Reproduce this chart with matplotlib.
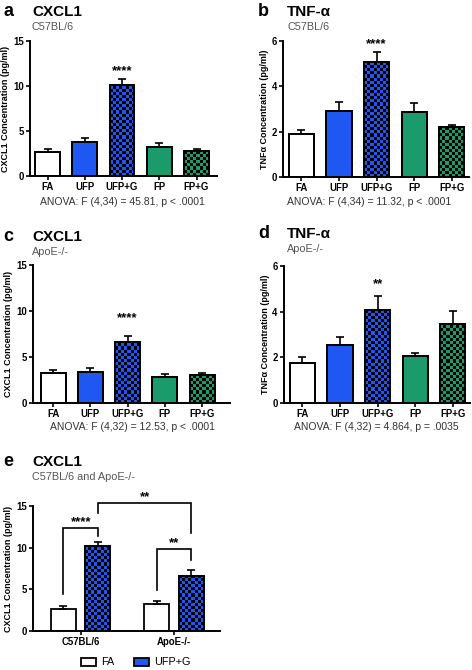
import numpy as np
import matplotlib
matplotlib.use("Agg")
import matplotlib.pyplot as plt
from matplotlib.colors import ListedColormap
from matplotlib.patches import Rectangle

plt.rcParams['font.family'] = ['Liberation Sans', 'DejaVu Sans']

groups = ['FA', 'UFP', 'UFP+G', 'FP', 'FP+G']

# a: CXCL1, C57BL/6
cxcl1_c57 = [2.65, 3.82, 10.15, 3.18, 2.82]
cxcl1_c57_sem = [0.38, 0.42, 0.58, 0.47, 0.2]
# b: TNF-a, C57BL/6
tnf_c57 = [1.9, 2.91, 5.06, 2.88, 2.19]
tnf_c57_sem = [0.19, 0.41, 0.47, 0.4, 0.11]
# c: CXCL1, ApoE-/-
cxcl1_apoe = [3.24, 3.42, 6.65, 2.84, 3.02]
cxcl1_apoe_sem = [0.32, 0.36, 0.65, 0.29, 0.25]
# d: TNF-a, ApoE-/-
tnf_apoe = [1.77, 2.55, 4.06, 2.04, 3.45]
tnf_apoe_sem = [0.23, 0.33, 0.63, 0.15, 0.59]

strains = ['C57BL/6', 'ApoE-/-']

blue = '#1f57f2'
green = '#1b9a6c'
face = ['white', blue, blue, green, green]
checked = [False, False, True, False, True]

W, H = 472, 670
fig = plt.figure(figsize=(W / 100, H / 100), dpi=100)


def px_axes(l, t, r, b):
    return fig.add_axes([l / W, 1 - b / H, (r - l) / W, (b - t) / H])


def style(ax, ylim, yticks, xlim):
    ax.set_xlim(*xlim)
    ax.set_ylim(*ylim)
    ax.set_yticks(yticks)
    for s in ['top', 'right']:
        ax.spines[s].set_visible(False)
    for s in ['left', 'bottom']:
        ax.spines[s].set_linewidth(1.4)
    ax.tick_params(length=3, width=1.2, labelsize=6.9, pad=1.5)
    for lab in ax.get_xticklabels() + ax.get_yticklabels():
        lab.set_fontweight('bold')


def checker(ax, bar, color, sq=3.1):
    # checkerboard fill clipped to a bar
    x0, y0 = bar.get_x(), bar.get_y()
    w, h = bar.get_width(), bar.get_height()
    bb = ax.get_position()
    xl, yl = ax.get_xlim(), ax.get_ylim()
    xpx = bb.width * W / (xl[1] - xl[0])
    ypx = bb.height * H / (yl[1] - yl[0])
    nx = int(np.ceil(w * xpx / sq))
    ny = int(np.ceil(h * ypx / sq))
    arr = (np.add.outer(np.arange(ny), np.arange(nx)) % 2)[::-1]
    im = ax.imshow(arr, cmap=ListedColormap([color, 'black']),
                   extent=(x0, x0 + nx * sq / xpx, y0, y0 + ny * sq / ypx),
                   origin='upper', interpolation='nearest', aspect='auto', zorder=2)
    im.set_clip_path(bar)


def bar_panel(ax, vals, sem, ylim, yticks, xlim, ylabel):
    x = np.arange(len(vals))
    style(ax, ylim, yticks, xlim)
    ax.set_xticks(x)
    ax.set_xticklabels(groups, fontweight='bold')
    bars = ax.bar(x, vals, width=0.67, color=face, edgecolor='black', linewidth=1.3, zorder=1)
    for b, c, chk in zip(bars, face, checked):
        if chk:
            checker(ax, b, c)
    ax.bar(x, vals, width=0.67, fill=False, edgecolor='black', linewidth=1.3, zorder=3)
    ax.errorbar(x, vals, yerr=[np.zeros(len(vals)), sem], fmt='none', ecolor='black',
                elinewidth=1.2, capsize=3, capthick=1.2, zorder=4)
    ax.set_ylabel(ylabel, fontsize=6.5, fontweight='bold', labelpad=2)
    ax.set_xlim(*xlim)
    ax.set_ylim(*ylim)


def header(x, y, letter, title, sub):
    fig.text(x / W, 1 - y / H, letter, fontsize=13, fontweight='bold', va='center')
    fig.text((x + 29) / W, 1 - y / H, title, fontsize=11, fontweight='bold', va='center')
    fig.text((x + 29) / W, 1 - (y + 15) / H, sub, fontsize=7.8, color='#555555', va='center')


def stars(ax, xpos, y, s):
    ax.text(xpos, y, s, ha='center', va='center', fontsize=9.5, fontweight='bold')


def anova(x, y, s):
    fig.text(x / W, 1 - y / H, s, fontsize=7.5, color='#333333', ha='center', va='center')


# a
ax_a = px_axes(30, 41, 217, 176)
bar_panel(ax_a, cxcl1_c57, cxcl1_c57_sem, (0, 15), [0, 5, 10, 15], (-0.47, 4.55),
          'CXCL1 Concentration (pg/ml)')
stars(ax_a, 2, 11.7, '****')
header(3, 12, 'a', 'CXCL1', 'C57BL/6')
anova(122, 202, 'ANOVA: F (4,34) = 45.81, p < .0001')

# b
ax_b = px_axes(283, 41, 469, 177)
bar_panel(ax_b, tnf_c57, tnf_c57_sem, (0, 6), [0, 2, 4, 6], (-0.49, 4.46),
          'TNFα Concentration (pg/ml)')
stars(ax_b, 2, 5.85, '****')
header(258, 12, 'b', 'TNF-α', 'C57BL/6')
anova(369, 202, 'ANOVA: F (4,34) = 11.32, p < .0001')

# c
ax_c = px_axes(33, 265, 230, 403)
bar_panel(ax_c, cxcl1_apoe, cxcl1_apoe_sem, (0, 15), [0, 5, 10, 15], (-0.54, 4.75),
          'CXCL1 Concentration (pg/ml)')
stars(ax_c, 2, 9.2, '****')
header(3, 237, 'c', 'CXCL1', 'ApoE-/-')
anova(132, 427, 'ANOVA: F (4,32) = 12.53, p < .0001')

# d
ax_d = px_axes(284, 266, 470, 403)
bar_panel(ax_d, tnf_apoe, tnf_apoe_sem, (0, 6), [0, 2, 4, 6], (-0.49, 4.46),
          'TNFα Concentration (pg/ml)')
stars(ax_d, 2, 5.2, '**')
header(258, 234, 'd', 'TNF-α', 'ApoE-/-')
anova(376, 427, 'ANOVA: F (4,32) = 4.864, p = .0035')

# e
ax_e = px_axes(33, 506, 220, 631)
fa_vals = [cxcl1_c57[0], cxcl1_apoe[0]]
fa_sem = [cxcl1_c57_sem[0], cxcl1_apoe_sem[0]]
ufpg_vals = [cxcl1_c57[2], cxcl1_apoe[2]]
ufpg_sem = [cxcl1_c57_sem[2], cxcl1_apoe_sem[2]]
xg = np.arange(len(strains))
off, bw = 0.184, 0.267
style(ax_e, (0, 15), [0, 5, 10, 15], (-0.51, 1.49))
ax_e.set_xticks(xg)
ax_e.set_xticklabels(strains, fontweight='bold')
ax_e.bar(xg - off, fa_vals, width=bw, color='white', edgecolor='black', linewidth=1.3, zorder=1)
ub = ax_e.bar(xg + off, ufpg_vals, width=bw, color=blue, edgecolor='black', linewidth=1.3, zorder=1)
for b in ub:
    checker(ax_e, b, blue)
ax_e.bar(xg + off, ufpg_vals, width=bw, fill=False, edgecolor='black', linewidth=1.3, zorder=3)
ax_e.errorbar(xg - off, fa_vals, yerr=[[0, 0], fa_sem], fmt='none', ecolor='black',
              elinewidth=1.2, capsize=3, capthick=1.2, zorder=4)
ax_e.errorbar(xg + off, ufpg_vals, yerr=[[0, 0], ufpg_sem], fmt='none', ecolor='black',
              elinewidth=1.2, capsize=3, capthick=1.2, zorder=4)
ax_e.set_ylabel('CXCL1 Concentration (pg/ml)', fontsize=6.5, fontweight='bold', labelpad=2)
ax_e.set_xlim(-0.51, 1.49)
ax_e.set_ylim(0, 15)


def bracket(ax, x1, x2, ytop, y1, y2, s, sy):
    ax.plot([x1, x1, x2, x2], [y1, ytop, ytop, y2], color='black', lw=1.2,
            clip_on=False, solid_joinstyle='miter')
    ax.text((x1 + x2) / 2, sy, s, ha='center', va='center', fontsize=9.5,
            fontweight='bold', clip_on=False)


bracket(ax_e, -off, off, 12.4, 4.45, 11.4, '****', 13.1)
bracket(ax_e, 1 - off, 1 + off, 9.85, 4.9, 8.5, '**', 10.5)
bracket(ax_e, off, 1 + off, 15.35, 14.15, 11.75, '**', 16.0)
header(3, 462, 'e', 'CXCL1', 'C57BL/6 and ApoE-/-')

# legend drawn by hand
leg = fig.add_axes([0, 0, 1, 1], zorder=-1)
leg.axis('off')
leg.add_patch(Rectangle((81, 658), 15, 8, facecolor='white', edgecolor='black', lw=1.3))
fig.text(101 / W, 1 - 662 / H, 'FA', fontsize=7.8, va='center')
sw = Rectangle((134, 658), 15, 8, facecolor=blue, edgecolor='black', lw=1.3)
leg.add_patch(sw)
arr = np.add.outer(np.arange(3), np.arange(5)) % 2
im = leg.imshow(arr, cmap=ListedColormap([blue, 'black']), extent=(134, 149, 667, 658),
                interpolation='nearest', aspect='auto')
im.set_clip_path(sw)
leg.set_xlim(0, W)
leg.set_ylim(H, 0)
fig.text(154 / W, 1 - 662 / H, 'UFP+G', fontsize=7.8, va='center')

fig.savefig('out.png', dpi=100)
